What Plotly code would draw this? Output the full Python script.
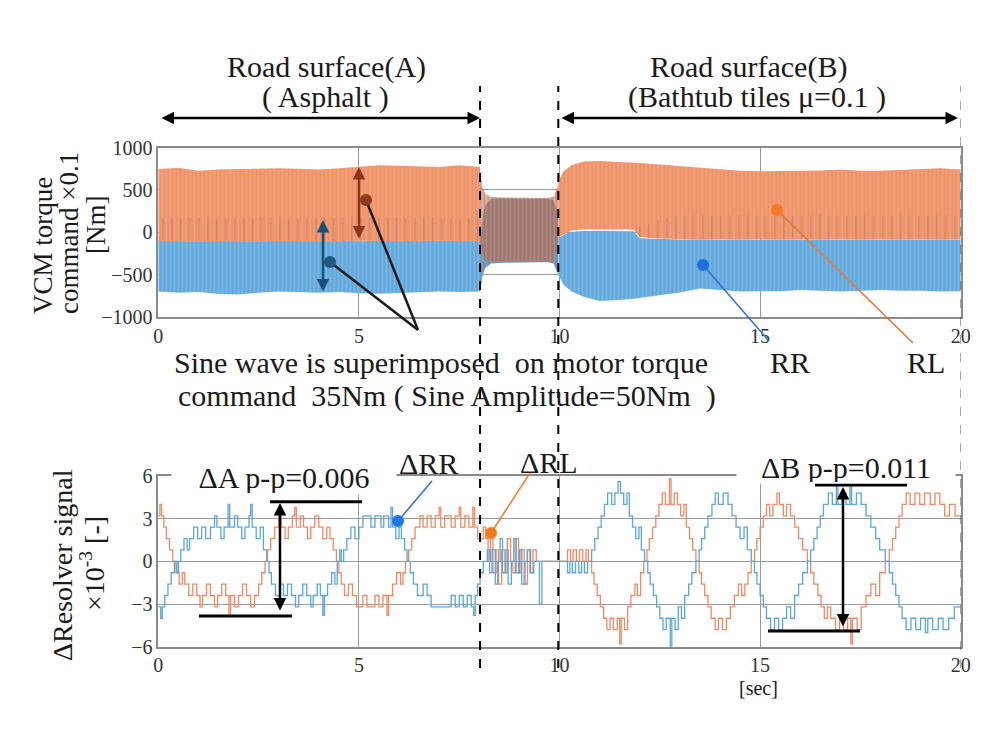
import plotly.graph_objects as go

# ---------------- DATA ----------------
# Top panel: envelopes of the VCM torque command oscillation (x0.1 Nm)
tA = [0, 0.5, 1, 1.5, 2, 2.5, 3, 3.5, 4, 4.5, 5, 5.5, 6, 6.5, 7, 7.5, 8.02]
rlA_hi = [745, 760, 725, 740, 745, 750, 755, 750, 740, 755, 770, 790, 785, 775, 770, 790, 770]
rlA_lo = [-105, -110, -115, -110, -110, -115, -110, -105, -110, -110, -100, -100, -105, -110, -100, -105, -110]
rrA_hi = [-95, -100, -100, -95, -100, -100, -95, -100, -100, -100, -105, -100, -100, -100, -95, -100, -100]
rrA_lo = [-700, -715, -705, -730, -735, -715, -700, -705, -715, -705, -720, -725, -715, -710, -700, -705, -700]
rrA_spike = [170, 175, 170, 165, 170, 175, 170, 165, 170, 175, 170, 165, 170, 175, 170, 165, 160]

tM = [8.02, 8.08, 8.15, 8.3, 8.6, 9.0, 9.4, 9.7, 9.85, 9.97]
rlM_hi = [720, 540, 450, 415, 410, 410, 410, 405, 420, 560]
rlM_lo = [-110, -250, -330, -345, -340, -340, -345, -345, -350, -90]
rrM_hi = [-100, 150, 320, 395, 400, 400, 400, 395, 380, 200]
rrM_lo = [-690, -520, -420, -370, -360, -355, -355, -355, -370, -500]

tB = [9.97, 10.1, 10.3, 10.6, 11.0, 11.5, 11.85, 12.0, 12.5, 13.0, 13.5, 14.0,
      14.5, 15.0, 15.5, 16.0, 16.5, 17.0, 17.5, 18.0, 18.5, 19.0, 19.5, 20.0]
rlB_hi = [600, 720, 790, 835, 840, 832, 822, 818, 800, 780, 760, 738,
          725, 720, 722, 720, 728, 740, 725, 725, 735, 745, 755, 740]
rlB_lo = [-60, -30, 20, 35, 35, 35, 30, -60, -75, -80, -85, -80,
          -85, -80, -85, -80, -85, -80, -85, -80, -85, -80, -85, -80]
rrB_hi = [-70, -30, 5, 15, 15, 15, 12, -70, -80, -85, -85, -85,
          -85, -85, -85, -85, -85, -85, -85, -85, -85, -85, -85, -85]
rrB_lo = [-500, -620, -700, -760, -812, -800, -785, -775, -745, -710, -665, -680,
          -698, -700, -695, -680, -690, -700, -690, -680, -690, -690, -700, -695]
rrB_spike = [-70, -30, 20, 35, 35, 35, 30, 60, 150, 195, 200, 195,
             200, 195, 200, 195, 200, 195, 200, 195, 200, 195, 200, 195]

# Bottom panel: Delta resolver signal (x1e-3), step samples (time, value)
rr_steps = [
    (0.00, -3.2), (0.06, -4.0), (0.10, -3.2), (0.16, -2.4), (0.24, -1.6), (0.32, -0.8), (0.40, 0.0),
    (0.46, -0.8), (0.50, 0.0), (0.56, 0.8), (0.64, 1.6), (0.72, 0.8), (0.78, 1.6), (0.88, 2.4),
    (0.98, 1.6), (1.08, 2.4), (1.18, 1.6), (1.30, 2.4), (1.40, 3.2), (1.46, 2.4), (1.56, 1.6),
    (1.64, 2.4), (1.74, 4.0), (1.78, 2.4), (1.90, 3.2), (1.98, 2.4), (2.08, 1.6), (2.16, 2.4),
    (2.26, 3.2), (2.30, 4.0), (2.34, 2.4), (2.44, 1.6), (2.54, 2.4), (2.62, 0.8), (2.70, 0.0),
    (2.76, -0.8), (2.82, -1.6), (2.92, -2.4), (3.02, -1.6), (3.12, -2.4), (3.22, -1.6), (3.32, -2.4),
    (3.42, -3.2), (3.50, -2.4), (3.60, -1.6), (3.70, -2.4), (3.80, -3.2), (3.86, -2.4), (3.96, -1.6),
    (4.04, -2.4), (4.10, -3.8), (4.14, -2.4), (4.22, -1.6), (4.32, -0.8), (4.40, -1.6), (4.46, 0.0),
    (4.52, 0.8), (4.56, 0.0), (4.62, 0.8), (4.70, 1.6), (4.80, 2.4), (4.90, 1.6), (5.00, 2.4),
    (5.10, 3.2), (5.30, 2.4), (5.40, 3.2), (5.55, 2.4), (5.62, 3.2), (5.74, 2.4), (5.80, 3.8),
    (5.84, 2.4), (5.92, 1.6), (6.00, 2.4), (6.06, 1.6), (6.14, 0.8), (6.20, 0.0), (6.28, -0.8),
    (6.36, -1.6), (6.46, -2.4), (6.60, -1.6), (6.70, -2.4), (6.80, -3.2), (7.30, -2.4), (7.40, -3.2),
    (7.50, -2.4), (7.60, -3.2), (7.70, -2.4), (7.80, -3.2), (7.86, -3.8), (7.90, -2.4), (7.96, -1.6),
    (8.02, -0.8), (8.10, 0.0), (8.20, 0.8), (8.26, -0.8), (8.32, 0.8), (8.40, -1.6), (8.46, 0.0),
    (8.52, 1.6), (8.58, -0.8), (8.66, 0.8), (8.72, -1.6), (8.80, 0.0), (8.86, 1.6), (8.92, -0.8),
    (9.00, 0.8), (9.06, -1.6), (9.14, 0.0), (9.20, 0.8), (9.28, -0.8), (9.36, 0.0), (9.50, -3.0),
    (9.56, 0.0), (10.20, -0.8), (10.26, 0.0), (10.32, -0.8), (10.40, 0.0), (10.48, -0.8),
    (10.55, 0.0), (10.62, -0.8), (10.70, 0.0),
    (10.80, 0.8), (10.88, 1.6), (10.96, 2.4), (11.04, 3.2), (11.12, 4.0), (11.20, 4.8), (11.30, 4.0),
    (11.38, 4.8), (11.46, 5.6), (11.52, 4.8), (11.60, 4.0), (11.68, 4.8), (11.74, 3.2), (11.82, 2.4),
    (11.90, 1.6), (11.98, 2.4), (12.04, 0.8), (12.12, 0.0),
    (12.20, -0.8), (12.26, -1.6), (12.34, -2.4), (12.42, -3.2), (12.50, -4.0), (12.58, -4.8),
    (12.66, -4.0), (12.76, -6.0), (12.80, -4.0), (12.88, -4.8), (12.96, -3.2), (13.04, -4.0),
    (13.12, -2.4), (13.22, -1.6), (13.30, -0.8), (13.40, 0.0),
    (13.48, 0.8), (13.54, 1.6), (13.62, 2.4), (13.70, 3.2), (13.80, 4.0), (13.88, 4.8), (13.96, 4.0),
    (14.08, 4.8), (14.20, 4.0), (14.30, 3.2), (14.40, 2.4), (14.50, 1.6), (14.60, 2.4), (14.68, 0.8),
    (14.78, 0.0),
    (14.86, -0.8), (14.92, -1.6), (15.00, -2.4), (15.08, -3.2), (15.16, -4.0), (15.26, -4.8),
    (15.36, -4.0), (15.46, -4.8), (15.56, -4.0), (15.66, -3.2), (15.76, -4.0), (15.86, -2.4),
    (15.96, -1.6), (16.06, -0.8), (16.18, 0.0),
    (16.26, 0.8), (16.34, 1.6), (16.42, 2.4), (16.50, 3.2), (16.58, 4.0), (16.70, 4.8), (16.80, 4.0),
    (16.90, 5.4), (16.94, 4.0), (17.04, 4.8), (17.14, 4.0), (17.24, 5.4), (17.28, 4.0), (17.40, 4.8),
    (17.52, 4.0), (17.64, 3.2), (17.76, 2.4), (17.88, 1.6), (17.98, 0.8), (18.12, 0.0),
    (18.22, -0.8), (18.30, -1.6), (18.38, -2.4), (18.46, -3.2), (18.54, -4.0), (18.64, -4.8),
    (18.76, -4.0), (18.88, -4.8), (19.00, -4.0), (19.12, -5.0), (19.18, -4.0), (19.30, -4.8),
    (19.44, -4.0), (19.56, -4.8), (19.70, -4.0), (19.84, -3.2), (20.00, -3.2),
]
rl_steps = [
    (0.00, 3.2), (0.04, 4.0), (0.08, 3.2), (0.14, 2.4), (0.20, 1.6), (0.28, 0.8), (0.36, 0.0),
    (0.44, -0.8), (0.52, -1.6), (0.60, -0.8), (0.66, -1.6), (0.76, -2.4), (0.86, -1.6), (0.96, -2.4),
    (1.04, -3.2), (1.10, -2.4), (1.20, -1.6), (1.30, -2.4), (1.40, -3.2), (1.48, -2.4), (1.58, -1.6),
    (1.68, -2.4), (1.76, -3.8), (1.80, -2.4), (1.90, -3.2), (2.00, -2.4), (2.10, -1.6), (2.20, -2.4),
    (2.30, -3.2), (2.40, -2.4), (2.50, -1.6), (2.58, -0.8), (2.66, 0.0), (2.72, 0.8), (2.80, 1.6),
    (2.90, 2.4), (3.00, 3.2), (3.06, 2.4), (3.16, 1.6), (3.24, 2.4), (3.34, 3.2), (3.40, 3.8),
    (3.44, 2.4), (3.54, 3.2), (3.62, 2.4), (3.72, 1.6), (3.80, 2.4), (3.90, 3.2), (4.00, 2.4),
    (4.10, 1.6), (4.20, 2.4), (4.28, 1.6), (4.36, 0.8), (4.44, 0.0), (4.50, -0.8), (4.56, -1.6),
    (4.64, -2.4), (4.74, -1.6), (4.84, -2.4), (4.94, -3.2), (5.10, -2.4), (5.20, -3.2), (5.40, -2.4),
    (5.50, -3.2), (5.60, -2.4), (5.70, -3.8), (5.74, -2.4), (5.84, -1.6), (5.94, -0.8), (6.04, -1.6),
    (6.10, -0.8), (6.16, 0.0), (6.24, 0.8), (6.32, 1.6), (6.40, 2.4), (6.52, 3.2), (6.60, 2.4),
    (6.70, 3.2), (6.80, 2.4), (6.90, 3.2), (7.00, 3.8), (7.04, 2.4), (7.14, 3.2), (7.30, 2.4),
    (7.40, 3.2), (7.50, 3.8), (7.54, 2.4), (7.64, 3.2), (7.74, 2.4), (7.84, 3.8), (7.88, 2.4),
    (7.96, 1.6), (8.10, 2.4), (8.16, 1.6), (8.22, 0.0), (8.28, 1.6), (8.34, -0.8), (8.42, 0.8),
    (8.48, -1.6), (8.56, 0.8), (8.64, -0.8), (8.70, 1.6), (8.78, 0.0), (8.84, -0.8), (8.90, 1.6),
    (8.98, -0.8), (9.04, 0.8), (9.12, -1.6), (9.20, 0.8), (9.26, -0.8), (9.34, 0.8), (9.42, 0.0),
    (10.20, 0.8), (10.28, 0.0), (10.34, 0.8), (10.42, 0.0), (10.50, 0.8), (10.58, 0.0),
    (10.66, 0.8), (10.72, 0.0),
    (10.80, -0.8), (10.86, -1.6), (10.94, -2.4), (11.02, -3.2), (11.10, -4.0), (11.18, -4.8),
    (11.26, -4.0), (11.34, -4.8), (11.44, -4.0), (11.50, -5.8), (11.54, -4.0), (11.62, -4.8),
    (11.70, -3.2), (11.78, -2.4), (11.88, -1.6), (11.94, -2.4), (12.02, -0.8), (12.10, 0.0),
    (12.18, 0.8), (12.24, 1.6), (12.32, 2.4), (12.40, 3.2), (12.48, 4.0), (12.56, 4.8), (12.64, 4.0),
    (12.74, 5.8), (12.78, 4.0), (12.86, 4.8), (12.94, 4.0), (13.02, 3.2), (13.10, 4.0), (13.16, 2.4),
    (13.24, 1.6), (13.32, 0.8), (13.40, 0.0),
    (13.48, -0.8), (13.54, -1.6), (13.62, -2.4), (13.70, -3.2), (13.78, -4.0), (13.88, -4.8),
    (13.96, -4.0), (14.06, -4.8), (14.16, -4.0), (14.26, -3.2), (14.36, -2.4), (14.46, -1.6),
    (14.54, -2.4), (14.62, -1.6), (14.70, -0.8), (14.78, 0.0),
    (14.86, 0.8), (14.92, 1.6), (15.00, 2.4), (15.08, 3.2), (15.16, 4.0), (15.24, 3.2), (15.32, 4.0),
    (15.42, 4.8), (15.48, 4.0), (15.58, 3.2), (15.66, 4.0), (15.76, 3.2), (15.86, 2.4), (15.96, 1.6),
    (16.06, 0.8), (16.18, 0.0),
    (16.26, -0.8), (16.34, -1.6), (16.44, -2.4), (16.52, -3.2), (16.60, -4.0), (16.68, -3.2),
    (16.76, -4.0), (16.88, -4.8), (16.98, -4.0), (17.08, -4.8), (17.18, -4.0), (17.26, -5.8),
    (17.30, -4.0), (17.42, -4.8), (17.52, -3.2), (17.64, -2.4), (17.76, -1.6), (17.88, -2.4),
    (17.98, -0.8), (18.12, 0.0),
    (18.22, 0.8), (18.30, 1.6), (18.38, 2.4), (18.46, 3.2), (18.54, 4.0), (18.64, 4.8), (18.74, 4.0),
    (18.86, 4.8), (18.98, 4.0), (19.10, 4.8), (19.24, 4.0), (19.36, 4.8), (19.48, 4.0), (19.60, 3.2),
    (19.72, 4.0), (19.86, 3.2), (20.00, 3.2),
]

x_ticks = [0, 5, 10, 15, 20]
top_ticks = [-1000, -500, 0, 500, 1000]
bot_ticks = [-6, -3, 0, 3, 6]
boundaries = [8.02, 9.97, 20.02]

# ---------------- FIGURE ----------------
W, H = 1000, 732
def px(x): return x / W
def py(y): return 1 - y / H

SERIF = "Liberation Serif, Times New Roman, serif"
ORANGE_BG, ORANGE_FG = "#F3A07A", "#E97C4E"
BLUE_BG, BLUE_FG = "#78B6E4", "#4592CF"

fig = go.Figure()

def band(t, hi, lo, bg, fg, size=4, solidity=0.45):
    fig.add_trace(go.Scatter(
        x=list(t) + list(t)[::-1], y=list(hi) + list(lo)[::-1],
        fill="toself", mode="lines", line=dict(width=0),
        fillcolor=bg,
        fillpattern=dict(shape="|", bgcolor=bg, fgcolor=fg, size=size, solidity=solidity),
        xaxis="x", yaxis="y", hoverinfo="skip", showlegend=False))

band(tA, rrA_hi, rrA_lo, BLUE_BG, BLUE_FG)
band(tA, rlA_hi, rlA_lo, ORANGE_BG, ORANGE_FG)
band(tA, rrA_spike, rrA_hi, "rgba(0,0,0,0)", "rgba(95,75,100,0.55)", size=9, solidity=0.15)
band(tM, rrM_hi, rrM_lo, "#7E9EBB", "#5A7FA5")
band(tM, rlM_hi, rlM_lo, "rgba(200,120,90,0.55)", "rgba(170,85,55,0.75)")
band(tB, rrB_hi, rrB_lo, BLUE_BG, BLUE_FG)
band(tB, rlB_hi, rlB_lo, ORANGE_BG, ORANGE_FG)
band(tB, rrB_spike, rrB_hi, "rgba(0,0,0,0)", "rgba(95,75,100,0.55)", size=9, solidity=0.15)

fig.add_trace(go.Scatter(
    x=[p[0] for p in rl_steps], y=[p[1] for p in rl_steps], mode="lines",
    line=dict(color="#EE8A63", width=1.3, shape="hv"),
    xaxis="x2", yaxis="y2", showlegend=False, name="ΔRL"))
fig.add_trace(go.Scatter(
    x=[p[0] for p in rr_steps], y=[p[1] for p in rr_steps], mode="lines",
    line=dict(color="#5AA5DA", width=1.3, shape="hv"),
    xaxis="x2", yaxis="y2", showlegend=False, name="ΔRR"))

axis_common = dict(showgrid=True, gridcolor="#9a9a9a", gridwidth=1.2,
                   showline=True, mirror=True, linecolor="#8a8a8a", linewidth=1.5,
                   ticks="", zeroline=False, layer="above traces", automargin=False,
                   tickfont=dict(family=SERIF, size=20, color="#333"))

fig.update_layout(
    width=W, height=H, margin=dict(l=0, r=0, t=0, b=0, pad=0, autoexpand=False),
    paper_bgcolor="white", plot_bgcolor="white", showlegend=False,
    xaxis=dict(domain=[px(158.3), px(960.7)], range=[0, 20], anchor="y",
               tickvals=x_ticks, **axis_common),
    yaxis=dict(domain=[py(317), py(147.5)], range=[-1000, 1000], anchor="x",
               tickvals=top_ticks, **axis_common),
    xaxis2=dict(domain=[px(158.3), px(960.7)], range=[0, 20], anchor="y2",
                tickvals=x_ticks, **axis_common),
    yaxis2=dict(domain=[py(646.7), py(476)], range=[-6, 6], anchor="x2",
                tickvals=bot_ticks, **axis_common),
)

shapes = []
for b in boundaries:
    shapes.append(dict(type="line", xref="x", yref="paper", x0=b, x1=b,
                       y0=py(668), y1=py(86), line=dict(color="black", width=2, dash="dash")))

def pline(x0, y0, x1, y1, color, width):
    shapes.append(dict(type="line", xref="paper", yref="paper",
                       x0=px(x0), y0=py(y0), x1=px(x1), y1=py(y1),
                       line=dict(color=color, width=width)))

def pdot(x, y, color, r=6):
    shapes.append(dict(type="circle", xref="paper", yref="paper",
                       x0=px(x - r), x1=px(x + r), y0=py(y + r), y1=py(y - r),
                       fillcolor=color, line=dict(color=color, width=0)))

pline(330, 262, 418, 330, "#1a1a1a", 2.5)
pline(366, 200, 418, 330, "#1a1a1a", 2.5)
pdot(330, 262, "#1F5A85")
pdot(366, 200, "#8E3A1C")
pline(703, 265, 768, 340, "#2D6FD6", 1.6)
pdot(703, 265, "#1F6FE0")
pline(777, 210, 913, 343, "#E0783A", 1.6)
pdot(777, 210, "#F07A28")
pline(398, 521, 432, 481, "#3A72D8", 1.6)
pdot(398, 521, "#1E78E6")
pline(491, 533, 530, 473, "#F08030", 1.6)
pdot(491, 533, "#F27A22")
pline(270, 501.7, 362, 501.7, "black", 3)
pline(199, 616, 292, 616, "black", 3)
pline(815, 485, 907, 485, "black", 3)
pline(768, 631, 860, 631, "black", 3)

fig.update_layout(shapes=shapes)

ann = []
def text(x, y, s, size=30, **kw):
    d = dict(x=px(x), y=py(y), xref="paper", yref="paper", text=s, showarrow=False,
             xanchor="center", yanchor="middle",
             font=dict(family=SERIF, size=size, color="#1a1a1a"))
    d.update(kw)
    ann.append(d)

def arrow(x0, y0, x1, y1, color="black", width=2.5):
    ann.append(dict(x=px(x1), y=py(y1), xref="paper", yref="paper",
                    ax=x0 - x1, ay=y0 - y1, axref="pixel", ayref="pixel",
                    text="", showarrow=True, arrowhead=2, arrowside="end+start",
                    arrowsize=1, arrowwidth=width, arrowcolor=color, standoff=0, startstandoff=0))

text(326, 67, "Road surface(A)")
text(325, 97, "( Asphalt )")
text(748, 67, "Road surface(B)")
text(757, 97, "(Bathtub tiles μ=0.1 )")
arrow(160, 118, 480, 118)
arrow(560, 118, 958, 118)

text(43, 246, "VCM torque", size=27, textangle=-90)
text(69, 233, "command ×0.1", size=27, textangle=-90)
text(96, 225, "[Nm]", size=27, textangle=-90)

text(62, 565, "ΔResolver signal", size=28, textangle=-90)
text(92, 564, "×10<sup>-3</sup> [-]", size=28, textangle=-90)

text(172, 362, "Sine wave is superimposed&nbsp;&nbsp;on motor torque", xanchor="left")
text(176, 396, "command&nbsp;&nbsp;35Nm ( Sine Amplitude=50Nm&nbsp; )", xanchor="left")
text(790, 362, "RR")
text(926, 362, "RL")

arrow(359, 240, 359, 167, color="#8B3518")
arrow(323, 293, 323, 220, color="#1B4F78")

text(284, 477, "ΔA p-p=0.006", bgcolor="white", width=222, height=32)
text(428, 463, "ΔRR")
text(549, 462, "ΔRL")
text(846, 467, "ΔB p-p=0.011", bgcolor="white", width=216, height=30)
text(758, 688, "[sec]", size=20)

arrow(280, 612, 280, 503)
arrow(843, 628, 843, 487)

fig.update_layout(annotations=ann)

fig.write_html("out.html", config={"displayModeBar": False},
               post_script="document.body.style.margin='0';document.body.style.overflow='hidden';")
